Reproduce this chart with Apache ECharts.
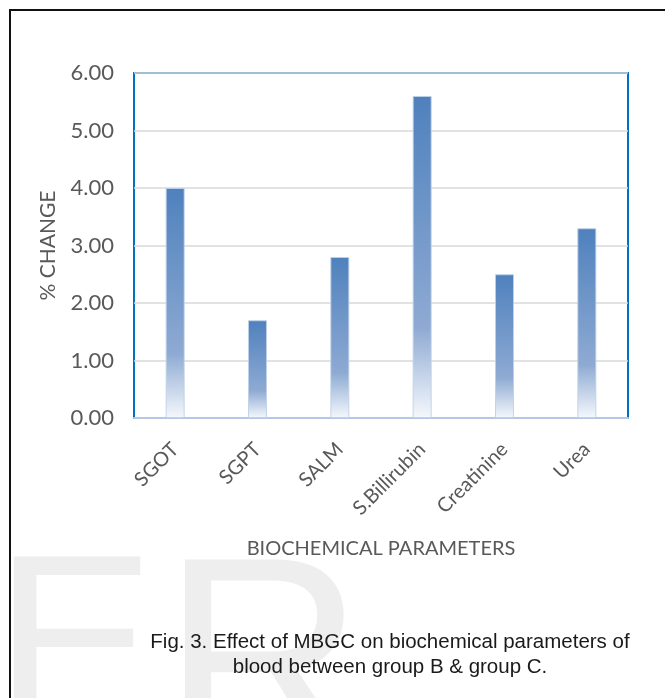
<!DOCTYPE html>
<html>
<head>
<meta charset="utf-8">
<script src="https://cdn.jsdelivr.net/npm/echarts@6/dist/echarts.min.js"></script>
<style>
  html, body { margin: 0; padding: 0; background: #fff; }
  #chart { width: 665px; height: 698px; position: relative; }
  /* page frame: only top and left edges are visible in the figure */
  .frame { position: absolute; left: 9px; top: 9px; width: 700px; height: 720px;
           border-left: 2px solid #111; border-top: 2px solid #111; pointer-events: none; }
</style>
</head>
<body>
<div id="chart"></div>
<div class="frame"></div>
<script>
// data
const categories = ['SGOT', 'SGPT', 'SALM', 'S.Billirubin', 'Creatinine', 'Urea'];
const changeValues = [4.0, 1.7, 2.8, 5.6, 2.5, 3.3];
const yMin = 0, yMax = 6, yStep = 1;
const captionLines = [
  'Fig. 3. Effect of MBGC on biochemical parameters of',
  'blood between group B & group C.'
];

const axisFont = 'Lato, "Liberation Sans", sans-serif';
const grey = '#595959';

var myChart = echarts.init(document.getElementById('chart'));
myChart.setOption({
  animation: false,
  backgroundColor: '#fff',
  grid: {
    left: 134, right: 37, top: 73, bottom: 280,
    show: true,
    borderColor: '#0070c0', // blue plot-area frame
    borderWidth: 2
  },
  xAxis: {
    type: 'category',
    data: categories,
    axisTick: { show: false },
    axisLine: { lineStyle: { color: '#b4c7e7', width: 2 } },
    axisLabel: { rotate: 45, margin: 28, fontSize: 20, color: grey, fontFamily: axisFont },
    name: 'BIOCHEMICAL PARAMETERS',
    nameLocation: 'middle',
    nameGap: 121,
    nameTextStyle: { fontSize: 20, color: grey, fontFamily: axisFont }
  },
  yAxis: {
    type: 'value',
    min: yMin, max: yMax, interval: yStep,
    axisLine: { show: false },
    axisTick: { show: false },
    splitLine: { lineStyle: { color: '#d9d9d9', width: 1.5 } },
    axisLabel: {
      margin: 20, fontSize: 22, color: grey, fontFamily: axisFont,
      formatter: v => v.toFixed(2)
    },
    name: '% CHANGE',
    nameLocation: 'middle',
    nameGap: 75,
    nameTextStyle: { fontSize: 21, color: grey, fontFamily: axisFont }
  },
  series: [{
    type: 'bar',
    data: changeValues,
    barWidth: 19,
    itemStyle: {
      borderColor: 'rgba(190,208,232,0.9)',
      borderWidth: 1,
      // excel-style fade: solid blue at top, white at the base
      color: new echarts.graphic.LinearGradient(0, 0, 0, 1, [
        { offset: 0, color: '#4f81bd' },
        { offset: 0.72, color: '#8eaad3' },
        { offset: 1, color: '#f5f8fc' }
      ])
    }
  }],
  graphic: [
    // faint "ER" watermark behind the caption
    { type: 'text', z: -10, left: -6, top: 535,
      style: { text: 'E', fontSize: 242, fontFamily: '"Liberation Sans", Arial, sans-serif', fill: '#eeeeee' } },
    { type: 'text', z: -10, left: 162, top: 535,
      style: { text: 'R', fontSize: 280, fontFamily: '"Liberation Sans", Arial, sans-serif', fill: '#eeeeee' } },
    { type: 'text', z: 10, x: 390, y: 630,
      style: {
        text: captionLines.join('\n'),
        align: 'center', verticalAlign: 'top',
        fontSize: 20.5, lineHeight: 25,
        fontFamily: '"Liberation Sans", Arial, sans-serif',
        fill: '#1a1a1a'
      } }
  ]
});
</script>
</body>
</html>
